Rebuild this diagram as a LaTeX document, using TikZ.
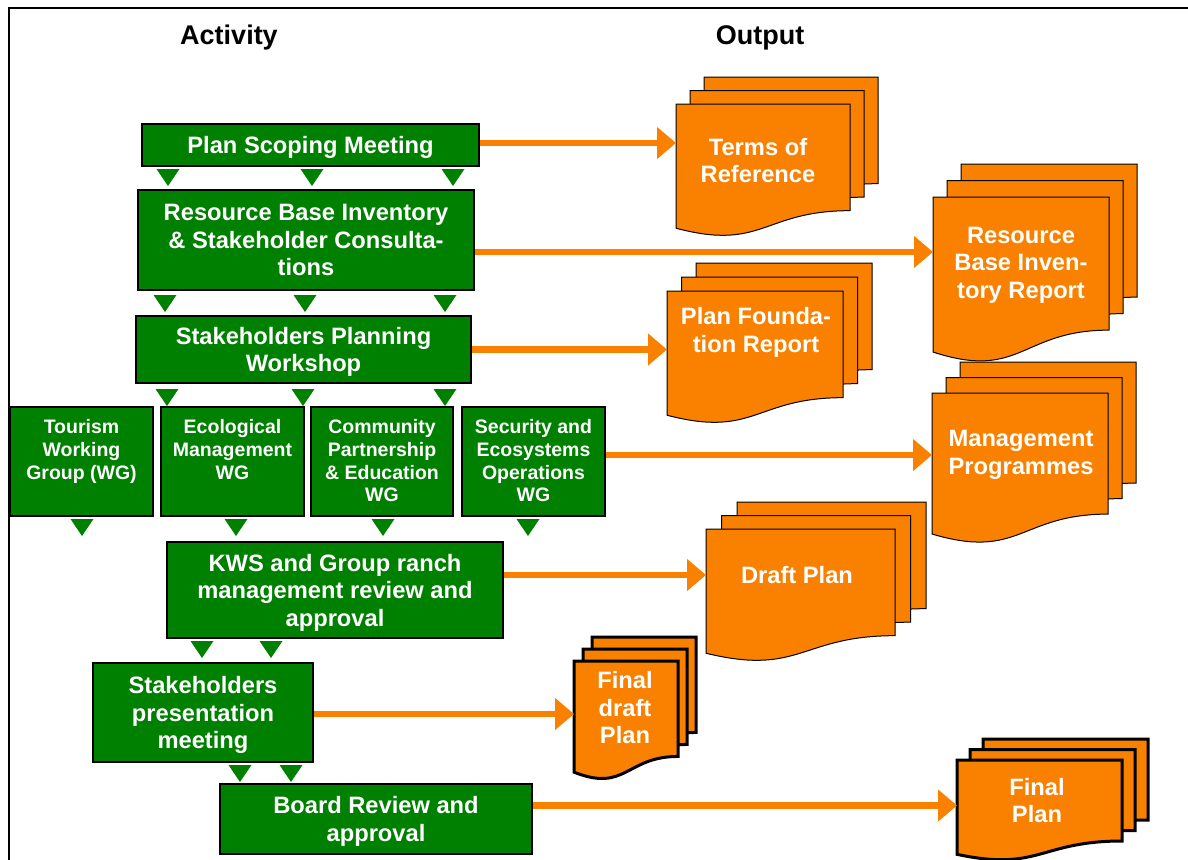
\documentclass[tikz,border=0pt]{standalone}
\usepackage{fontspec}
\setmainfont{Liberation Sans}
\usetikzlibrary{arrows.meta}
\definecolor{gr}{RGB}{0,128,0}
\definecolor{og}{RGB}{250,128,0}
\newcommand\mydocpath[4]{({#1},{#2}) -- ({#1+#3},{#2}) -- ({#1+#3},{#2+0.802*#4}) .. controls ({#1+0.5*#3},{#2+0.802*#4}) and ({#1+0.5*#3},{#2+1.1075*#4}) .. ({#1},{#2+0.934*#4}) -- cycle}
\newcommand\multidoc[8]{%
 \filldraw[docst,#8] \mydocpath{#2+2*#6}{#3+2*#7}{#4}{#5};
 \filldraw[docst,#8] \mydocpath{#2+#6}{#3+#7}{#4}{#5};
 \filldraw[docst,#8] \mydocpath{#2}{#3}{#4}{#5};
 \node[docarea, minimum width=#4pt, minimum height={0.8*#5pt}, anchor=north west] (#1) at ({#2},{#3}) {};
}
\tikzset{
 gbox/.style={draw=black, line width=1.2pt, fill=gr, text=white, font=\bfseries\fontsize{23.7}{27.5}\selectfont, align=center, inner sep=0pt, text depth=0pt},
 wgbox/.style={draw=black, line width=1.2pt, fill=gr, inner sep=0pt, minimum width=143pt, minimum height=109pt},
 wgtxt/.style={text=white, font=\bfseries\fontsize{19.5}{22.7}\selectfont, align=center, inner sep=0pt, anchor=north},
 dtxt/.style={text=white, font=\bfseries\fontsize{23.7}{27.5}\selectfont, align=center, inner sep=0pt, text depth=0pt},
 head/.style={text=black, font=\bfseries\fontsize{27}{30}\selectfont, inner sep=0pt, text depth=0pt},
 docst/.style={fill=og, draw=black, line width=1pt},
 thickdoc/.style={line width=3pt},
 docarea/.style={inner sep=0pt, draw=none},
 oarr/.style={draw=og, line width=6.5pt, -{Triangle[length=19pt,width=31pt]}},
 tri/.pic={\fill[gr] (-11.5,0) -- (11.5,0) -- (0,17) -- cycle;}
}
\begin{document}
\begin{tikzpicture}[x=1pt,y=-1pt]
\useasboundingbox (0,0) rectangle (1188,859);
% frame
\draw[line width=1.3pt] (9,860) -- (9,8) -- (1189,8);
% headings
\node[head] (hact) at (229,35) {Activity};
\node[head] (hout) at (760,35) {Output};
% activity boxes
\node[gbox, minimum width=337pt, minimum height=42pt] (psm) at (310.5,145) {Plan Scoping Meeting};
\node[gbox, minimum width=336pt, minimum height=100pt] (rbi) at (306,240) {Resource Base Inventory\\ \& Stakeholder Consulta-\\ tions};
\node[gbox, minimum width=335pt, minimum height=67pt] (spw) at (303.5,349.5) {Stakeholders Planning\\ Workshop};
\node[wgbox] (wg1) at (81.5,461.5) {};
\node[wgbox] (wg2) at (232.5,461.5) {};
\node[wgbox, minimum width=142pt] (wg3) at (382,461.5) {};
\node[wgbox] (wg4) at (533.5,461.5) {};
\node[wgtxt] (wg1t) at ([yshift=-13pt]wg1.north) {Tourism\\ Working\\ Group (WG)};
\node[wgtxt] (wg2t) at ([yshift=-13pt]wg2.north) {Ecological\\ Management\\ WG};
\node[wgtxt] (wg3t) at ([yshift=-13pt]wg3.north) {Community\\ Partnership\\ \& Education\\ WG};
\node[wgtxt] (wg4t) at ([yshift=-13pt]wg4.north) {Security and\\ Ecosystems\\ Operations\\ WG};
\node[gbox, minimum width=336pt, minimum height=96pt] (kws) at (335,590) {KWS and Group ranch\\ management review and\\ approval};
\node[gbox, minimum width=220pt, minimum height=99pt] (spm) at (203,712.5) {Stakeholders\\ presentation\\ meeting};
\node[gbox, minimum width=312pt, minimum height=70pt] (brd) at (376,819) {Board Review and\\ approval};
% triangles
\foreach \x in {168,312,453} \pic at (\x,169) {tri};
\foreach \x in {165,305,445} \pic at (\x,295) {tri};
\foreach \x in {167,303,445} \pic at (\x,389) {tri};
\foreach \x in {82,236,383,528} \pic at (\x,519) {tri};
\foreach \x in {202,271} \pic at (\x,641) {tri};
\foreach \x in {240,291} \pic at (\x,765) {tri};
% output documents
\multidoc{tor}{676}{104}{174}{133}{14}{-13.5}{}
\multidoc{rbr}{933}{197}{176}{166}{14}{-16.5}{}
\multidoc{pfr}{667}{291}{176}{133}{14.5}{-14}{}
\multidoc{mgp}{932}{393}{176}{151}{14}{-15.5}{}
\multidoc{dft}{706}{529}{189}{133}{15.5}{-13.5}{}
\multidoc{fdp}{574}{661}{104}{119}{9}{-12}{thickdoc}
\multidoc{fnp}{957}{760}{165}{101}{13}{-10.5}{thickdoc}
\node[dtxt] (tort) at (758,160.5) {Terms of\\ Reference};
\node[dtxt] (rbrt) at (1021,262.5) {Resource\\ Base Inven-\\ tory Report};
\node[dtxt] (pfrt) at (756,330) {Plan Founda-\\ tion Report};
\node[dtxt] (mgpt) at (1021,452.5) {Management\\ Programmes};
\node[dtxt] (dftt) at (797,575) {Draft Plan};
\node[dtxt] (fdpt) at (625,707.5) {Final\\ draft\\ Plan};
\node[dtxt] (fnpt) at (1037,800.5) {Final\\ Plan};
% arrows
\path ([yshift=2pt]psm.east) coordinate (a1);
\path ([yshift=-12pt]rbi.east) coordinate (a2);
\path (spw.east) coordinate (a3);
\path ([yshift=6.5pt]wg4.east) coordinate (a4);
\path ([yshift=15pt]kws.east) coordinate (a5);
\path ([yshift=-1.5pt]spm.east) coordinate (a6);
\path ([yshift=13.5pt]brd.east) coordinate (a7);
\draw[oarr] (a1) -- (a1 -| tor.west);
\draw[oarr] (a2) -- (a2 -| rbr.west);
\draw[oarr] (a3) -- (a3 -| pfr.west);
\draw[oarr] (a4) -- (a4 -| mgp.west);
\draw[oarr] (a5) -- (a5 -| dft.west);
\draw[oarr] (a6) -- (a6 -| fdp.west);
\draw[oarr] (a7) -- (a7 -| fnp.west);
\end{tikzpicture}
\end{document}
